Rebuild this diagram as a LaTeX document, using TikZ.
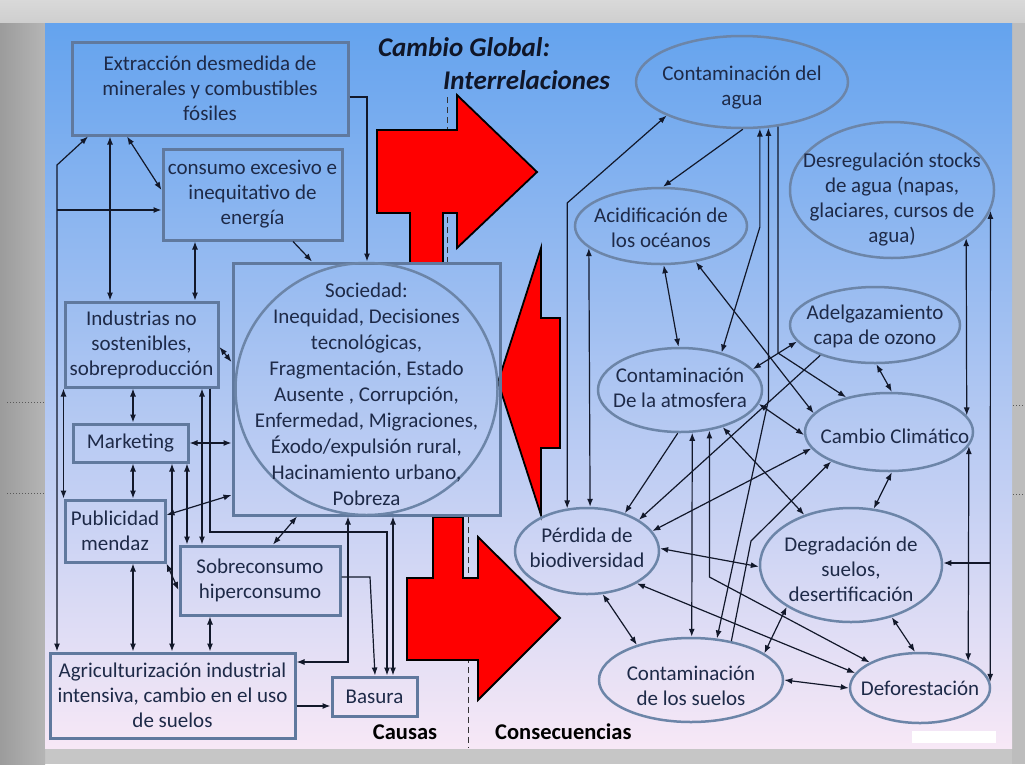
\documentclass[tikz,border=0pt]{standalone}
\usepackage{fontspec}
\setmainfont{Carlito}
\usetikzlibrary{arrows.meta,shapes.geometric}

\definecolor{ink}{RGB}{30,42,72}
\definecolor{titleink}{RGB}{16,22,40}
\definecolor{boxline}{RGB}{96,121,158}
\definecolor{bubline}{RGB}{108,133,168}
\definecolor{wire}{RGB}{18,24,42}
\definecolor{paneltop}{RGB}{100,163,238}
\definecolor{panelmid}{RGB}{172,206,242}
\definecolor{panelbot}{RGB}{247,232,246}

\begin{document}
\begin{tikzpicture}[x=1pt,y=-1pt,
  lbl/.style={font=\fontsize{21}{25}\selectfont, text=ink, align=center, inner sep=0pt},
  box/.style={lbl, draw=boxline, line width=3pt},
  bubble/.style={ellipse, draw=bubline, line width=2.5pt, inner sep=0pt},
  heading/.style={font=\fontsize{27}{31}\selectfont\bfseries\itshape, text=titleink, inner sep=0pt},
  side/.style={font=\fontsize{22.5}{27}\selectfont\bfseries, text=black, inner sep=0pt},
  link/.style={draw=wire, line width=1.2pt, -{Latex[length=8pt,width=6pt]}},
  link2/.style={draw=wire, line width=1.2pt, {Latex[length=8pt,width=6pt]}-{Latex[length=8pt,width=6pt]}},
  bigarrow/.style={fill=red, draw=black, line width=1.8pt, line join=miter}]
\useasboundingbox (0,0) rectangle (1025,764);

% slide frame and panel
\fill[gray!45] (0,0) rectangle (1025,764);
\shade[top color=gray!30, bottom color=gray!38] (0,0) rectangle (1025,23);
\shade[left color=gray!78, right color=gray!58] (0,23) rectangle (45,764);
\fill[gray!52] (1012,23) rectangle (1025,764);
\shade[top color=paneltop, middle color=panelmid, bottom color=panelbot] (45,23) rectangle (1012,748);
\fill[white] (912,731) rectangle (996,743);
\draw[gray!70!black, dotted, line width=1pt] (7,402) -- (45,402) (7,493) -- (45,493);
\draw[gray!70!black, dotted, line width=1pt] (1013,405) -- (1025,405) (1013,494) -- (1025,494);

% divider
\draw[black!80, line width=1pt, dash pattern=on 6pt off 4pt] (447,97) -- (447,263);
\draw[black!80, line width=1pt, dash pattern=on 6pt off 4pt] (468,517) -- (468,748);

% red arrows
\draw[bigarrow] (377,130) -- (457,130) -- (457,95) -- (537,172) -- (457,248) -- (457,213) -- (443,213)
  -- (443,263) -- (410,263) -- (410,213) -- (377,213) -- cycle;
\draw[bigarrow] (498,382) -- (541,248) -- (541,318) -- (560,318) -- (560,448) -- (541,448) -- (541,515) -- cycle;
\draw[bigarrow] (433,517) -- (463,517) -- (463,578) -- (478,578) -- (478,537) -- (560,618) -- (478,700)
  -- (478,660) -- (407,660) -- (407,578) -- (433,578) -- cycle;

\node[heading, anchor=west] (ttl1) at (378,47) {Cambio Global:};
\node[heading, anchor=west] (ttl2) at (443,80) {Interrelaciones};
\node[side] (causas) at (405,732) {Causas};
\node[side, anchor=west] (conse) at (495,732) {Consecuencias};

% causas
\node[box, minimum width=276pt, minimum height=93pt] (extr) at (210,88.5) {Extracción desmedida de\\minerales y combustibles\\fósiles};
\node[box, minimum width=179pt, minimum height=91pt] (cons) at (252.5,194.5) {consumo excesivo e\\inequitativo de\\energía};
\node[box, minimum width=153pt, minimum height=85pt] (indus) at (141.5,344.5) {Industrias no\\sostenibles,\\sobreproducción};
\node[box, minimum width=115pt, minimum height=38pt] (mkt) at (130.5,443) {Marketing};
\node[box, minimum width=100pt, minimum height=62pt] (publi) at (115,531) {Publicidad\\mendaz};
\node[box, minimum width=160pt, minimum height=69pt] (sobre) at (260,580.5) {Sobreconsumo\\hiperconsumo};
\node[box, minimum width=245pt, minimum height=85pt] (agri) at (172.5,695.5) {Agriculturización industrial\\intensiva, cambio en el uso\\de suelos};
\node[box, minimum width=85pt, minimum height=39pt] (basura) at (374.5,696.5) {Basura};
\node[box, minimum width=267pt, minimum height=252pt] (soc) at (366.5,389) {};
\node[bubble, minimum width=262pt, minimum height=252pt] (socc) at (366.5,389) {};
\node[lbl, font=\fontsize{21}{26}\selectfont] (soct) at (366.5,394) {Sociedad:\\Inequidad, Decisiones\\tecnológicas,\\Fragmentación, Estado\\Ausente , Corrupción,\\Enfermedad, Migraciones,\\Éxodo/expulsión rural,\\Hacinamiento urbano,\\Pobreza};

% consecuencias
\node[bubble, minimum width=212pt, minimum height=92pt] (agua) at (742,82) {};
\node[lbl] (aguat) at (742,88) {Contaminación del\\agua};
\node[bubble, minimum width=204pt, minimum height=136pt] (desreg) at (892,190) {};
\node[lbl] (desregt) at (892,200) {Desregulación stocks\\de agua (napas,\\glaciares, cursos de\\agua)};
\node[bubble, minimum width=172pt, minimum height=76pt] (acid) at (661,226) {};
\node[lbl] (acidt) at (661,228) {Acidificación de\\los océanos};
\node[bubble, minimum width=170pt, minimum height=76pt] (ozone) at (875,325) {};
\node[lbl] (ozonet) at (875,326) {Adelgazamiento\\capa de ozono};
\node[bubble, minimum width=164pt, minimum height=84pt] (atm) at (680,390) {};
\node[lbl] (atmt) at (680,388) {Contaminación\\De la atmosfera};
\node[bubble, minimum width=168pt, minimum height=78pt] (cc) at (889,432) {};
\node[lbl] (cct) at (895,436) {Cambio Climático};
\node[bubble, minimum width=144pt, minimum height=86pt] (pd) at (587,551) {};
\node[lbl] (pdt) at (587,548) {Pérdida de\\biodiversidad};
\node[bubble, minimum width=182pt, minimum height=114pt] (degr) at (851,565) {};
\node[lbl] (degrt) at (851,569) {Degradación de\\suelos,\\desertificación};
\node[bubble, minimum width=184pt, minimum height=84pt] (suelos) at (691,680) {};
\node[lbl] (suelost) at (691,686) {Contaminación\\de los suelos};
\node[bubble, minimum width=140pt, minimum height=70pt] (defo) at (920,688) {};
\node[lbl] (defot) at (920,688) {Deforestación};

% links, causas
\coordinate (jc) at (57,210);
\draw[link2] (agri.north -| 57,0) -- (57,165) -- (extr.south -| 88,0);
\draw[link] (jc) -- (cons.west |- jc);
\draw[link2] (extr.south -| 127,0) -- (cons.west |- 0,190);
\draw[link2] (extr.south -| 110,0) -- (indus.north -| 110,0);
\draw[link2] (cons.south -| 195,0) -- (indus.north -| 195,0);
\draw[link] (cons.south -| 293,0) -- (soc.north -| 312,0);
\draw[link] (extr.east |- 0,97) -| (soc.north -| 367,0);
\draw[link2] (indus.east |- 0,347) -- (soc.west |- 0,362);
\draw[link2] (indus.south west) -- (publi.north west);
\draw[link2] (indus.south -| 133,0) -- (mkt.north -| 133,0);
\draw[link2] (mkt.south -| 133,0) -- (publi.north -| 133,0);
\draw[link2] (mkt.east) -- (soc.west |- mkt.east);
\draw[link2] (indus.south -| 202,0) -- (sobre.north -| 202,0);
\draw[link] (indus.south -| 210,0) -- (210,532) -- (387,532) -- (basura.north -| 387,0);
\draw[link2] (mkt.south -| 172,0) -- (agri.north -| 172,0);
\draw[link2] (mkt.south -| 187,0) -- (sobre.north -| 187,0);
\draw[link2] (publi.east |- 0,515) -- (soc.west |- 0,495);
\draw[link2] (publi.south east) -- (sobre.west |- 0,590);
\draw[link2] (publi.south -| 133,0) -- (agri.north -| 133,0);
\draw[link2] (sobre.south -| 210,0) -- (agri.north -| 210,0);
\draw[link2] (sobre.north -| 273,0) -- (soc.south -| 297,0);
\draw[link] (sobre.east |- 0,577) -- (370,577) -- (basura.north -| 375,0);
\draw[link2] (soc.south -| 348,0) |- (agri.east |- 0,662);
\draw[link2] (soc.south -| 393,0) -- (basura.north -| 393,0);
\draw[link] (agri.east |- 0,706) -- (basura.west |- 0,706);

% links, consecuencias
\draw[link2] (pd.115) -- (pd.115 |- 0,203) -- (agua.204);
\draw[link2] (acid.197) -- (pd.86);
\draw[link] (agua.271) -- (acid.87);
\draw[link2] (agua.291) -- (agua.291 |- 0,227) -- (atm.42);
\draw[link2] (agua.300) -- (agua.300 |- 0,400) -- (suelos.58);
\draw[link] (agua.309) -- (agua.309 |- 0,353) -- (cc.141);
\draw[link2] (acid.274) -- (atm.92);
\draw[link2] (acid.314) -- (cc.166);
\draw[link2] (ozone.192) -- (atm.16);
\draw[link] (ozone.209) -- (pd.31);
\draw[link2] (ozone.272) -- (cc.86);
\draw[link2] (desreg.327) -- (cc.12);
\draw[link2] (desreg.348) -- (defo.5);
\draw[link] (desreg.348 |- 0,563) -- (degr.east |- 0,563);
\draw[link] (atm.267) -- (pd.45);
\draw[link2] (cc.192) -- (pd.17);
\draw[link2] (atm.350) -- (cc.182);
\draw[link2] (atm.319) -- (degr.133);
\draw[link] (suelos.44) -- (751,541) -- (cc.207);
\draw[link2] (atm.286) -- (suelos.89);
\draw[link2] (atm.306) -- (atm.306 |- 0,577) -- (defo.153);
\draw[link2] (pd.2) -- (degr.181);
\draw[link2] (pd.327) -- (defo.167);
\draw[link2] (pd.290) -- (suelos.147);
\draw[link2] (degr.213) -- (suelos.20);
\draw[link2] (suelos.0) -- (defo.180);
\draw[link2] (degr.308) -- (defo.98);
\draw[link2] (cc.350) -- (defo.29);
\draw[link2] (cc.274) -- (degr.68);
\end{tikzpicture}
\end{document}
